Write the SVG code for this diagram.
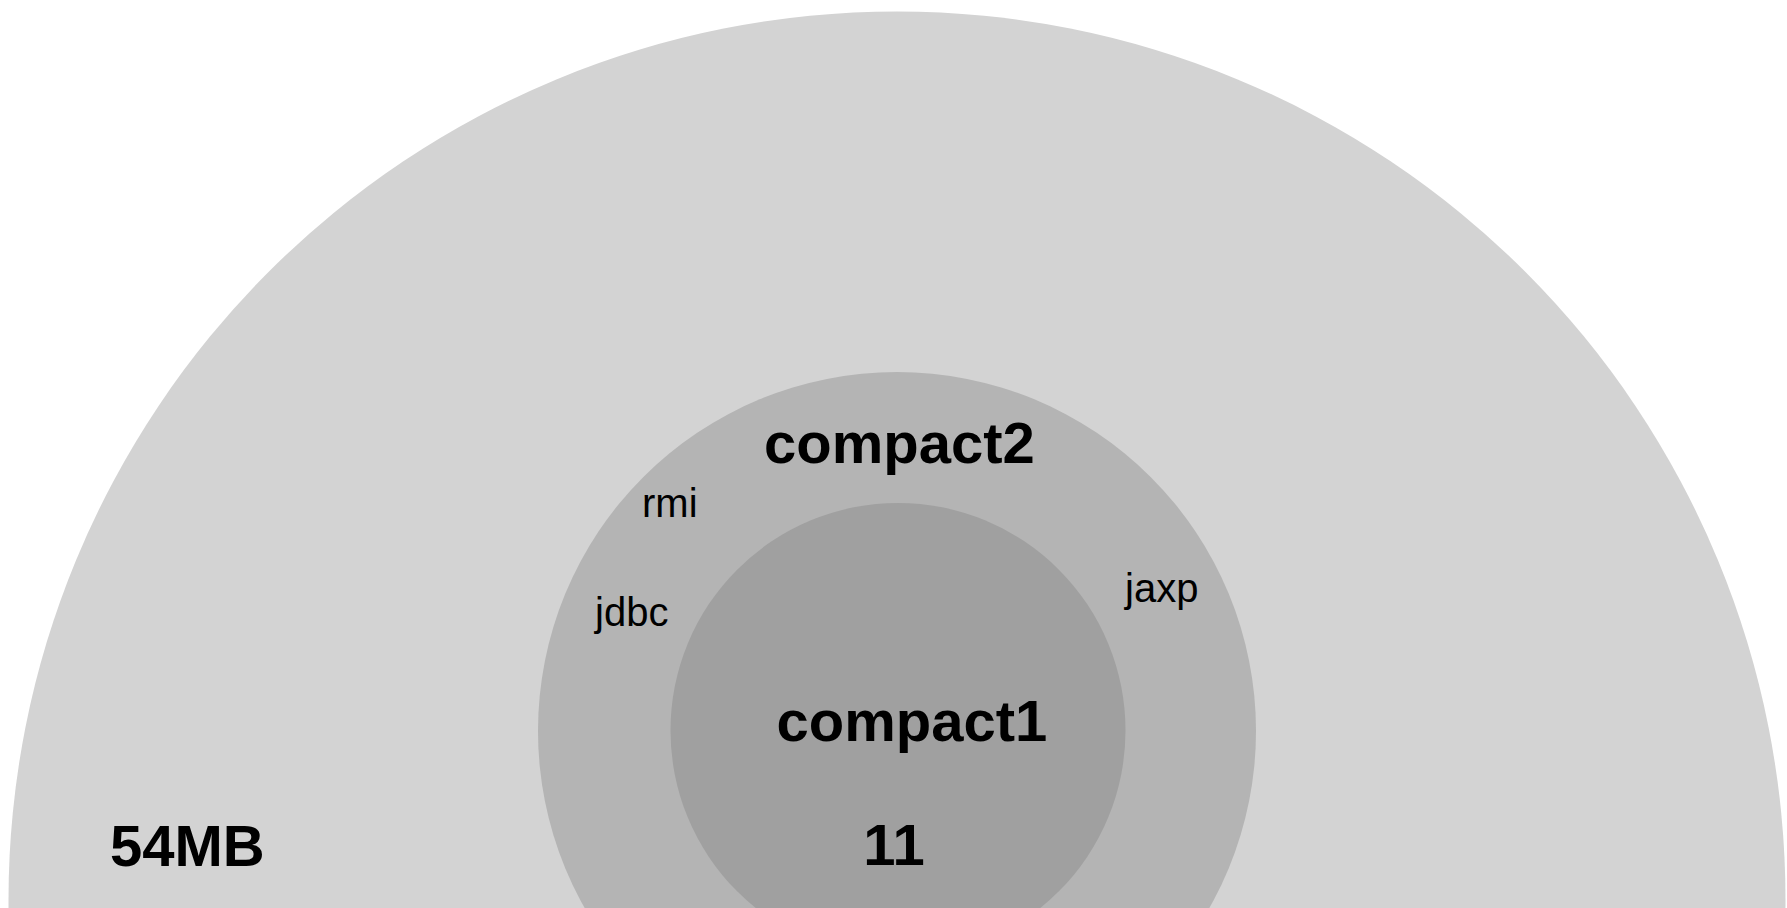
<svg xmlns="http://www.w3.org/2000/svg" width="1787" height="908" viewBox="0 0 1787 908">
<style>
.b{font-family:"Liberation Sans",Arial,Helvetica,sans-serif;font-weight:bold;font-size:58px;fill:#000}
.r{font-family:"Liberation Sans",Arial,Helvetica,sans-serif;font-size:40px;fill:#000}
</style>
<rect width="1787" height="908" fill="#ffffff"/>
<g id="full">
<circle cx="897" cy="900" r="888.5" fill="#d3d3d3"/>
<text class="b" x="110" y="866">54MB</text>
</g>
<g id="compact2">
<circle cx="897" cy="731" r="359" fill="#b4b4b4"/>
<text class="b" x="899.5" y="463" text-anchor="middle">compact2</text>
<text class="r" x="642" y="517">rmi</text>
<text class="r" x="595" y="626">jdbc</text>
<text class="r" x="1125" y="602">jaxp</text>
</g>
<g id="compact1">
<circle cx="898" cy="730.5" r="227.5" fill="#a0a0a0"/>
<text class="b" x="912" y="741" text-anchor="middle">compact1</text>
<text class="b" x="894" y="865" text-anchor="middle">11</text>
</g>
<g id="connectors"></g>
</svg>
